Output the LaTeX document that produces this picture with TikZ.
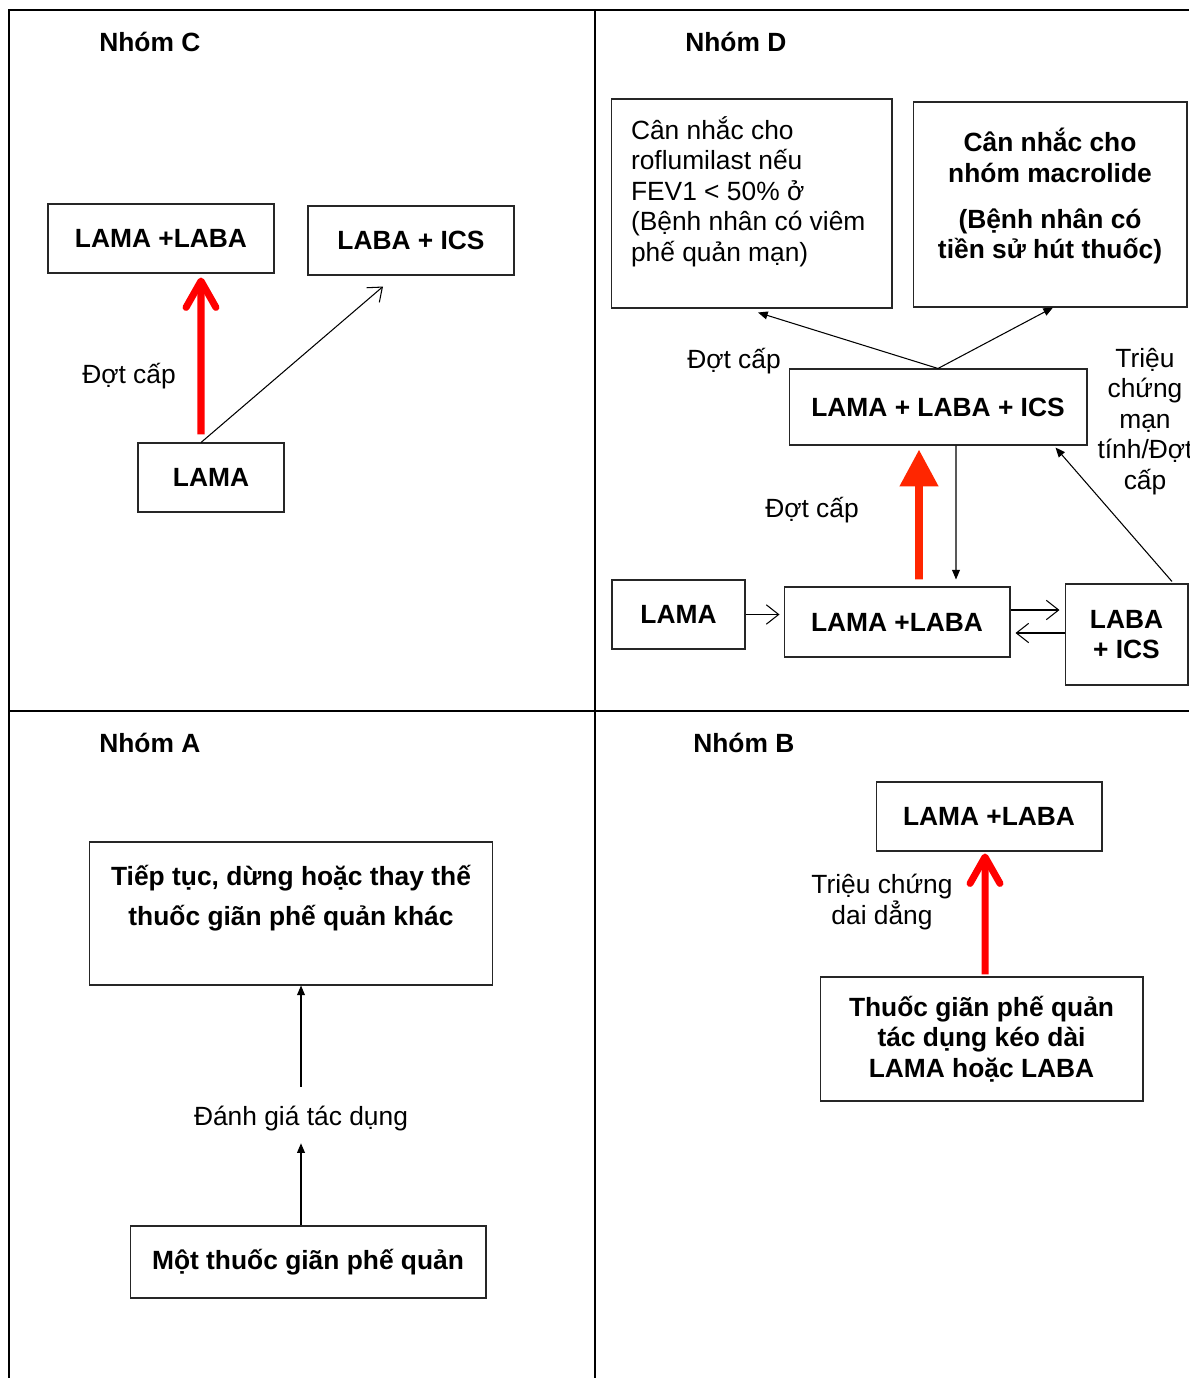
\documentclass[tikz,border=0pt]{standalone}
\usepackage{fontspec}
\setmainfont{Liberation Sans}
\usetikzlibrary{arrows.meta}

\definecolor{redC}{RGB}{255,0,0}
\definecolor{redD}{RGB}{255,38,0}

\tikzset{
  box/.style={draw=black!85, line width=0.6pt, font=\bfseries, align=center, inner sep=0pt},
  plainbox/.style={draw=black!85, line width=0.6pt, inner sep=0pt},
  groupname/.style={anchor=west, font=\bfseries, inner sep=0pt},
  note/.style={align=center, inner sep=2pt},
  thinarrow/.style={line width=0.6pt, -{Triangle[length=5.5pt,width=4.5pt]}},
  openarrow/.style={line width=0.6pt, -{Straight Barb[length=7pt,width=11pt]}},
  redarrow/.style={redC, line width=4pt, -{Straight Barb[length=15pt,width=17pt,round]}},
  bigredarrow/.style={redD, line width=4.5pt, -{Triangle[length=21pt,width=21pt]}}
}

\begin{document}
\fontsize{15}{17.3}\selectfont
\begin{tikzpicture}[x=0.02cm, y=-0.02cm]
    \useasboundingbox (0,0) rectangle (1189,1378);

    % Frame of the four groups
    \draw[line width=1.1pt] (9,1378) -- (9,10) -- (1189,10);
    \draw[line width=1.1pt] (595,10) -- (595,1378);
    \draw[line width=1.1pt] (9,711) -- (1189,711);

    % Group names
    \foreach \name/\x/\y in {C/99/42, D/685/42, A/99/743, B/693/743}
        \node[groupname] (nhom\name) at (\x,\y) {Nhóm \name};

    % Nhom C
    \node[box, minimum width=4.52cm, minimum height=1.38cm] (lamaabC) at (161,238.5) {LAMA +LABA};
    \node[box, minimum width=4.12cm, minimum height=1.38cm] (labaicsC) at (411,240.5) {LABA + ICS};
    \node[box, minimum width=2.92cm, minimum height=1.38cm] (lamaC) at (211,477.5) {LAMA};
    \node[note] (dotcapC) at (129,376) {Đợt cấp};
    \draw[redarrow] ([xshift=-0.2cm,yshift=0.16cm]lamaC.north) -- ([xshift=0.8cm,yshift=-0.08cm]lamaabC.south);
    \draw[openarrow] ([xshift=-0.2cm]lamaC.north) -- ([xshift=-0.56cm,yshift=-0.22cm]labaicsC.south);

    % Nhom D
    \node[plainbox] (roflu) at (751.5,203.5) {\parbox[c][4.18cm][t]{5.62cm}{\raggedright\leftskip=0.4cm\vspace*{10pt}Cân nhắc cho\\ roflumilast nếu\\ FEV1 < 50\% ở\\ (Bệnh nhân có viêm\\ phế quản mạn)}};
    \node[plainbox, font=\bfseries] (macro) at (1050,204.5) {\parbox[c][4.1cm][t]{5.48cm}{\centering\vspace*{15pt}Cân nhắc cho\\ nhóm macrolide\\[9pt] (Bệnh nhân có\\ tiền sử hút thuốc)}};
    \node[box, minimum width=5.96cm, minimum height=1.52cm] (tripleD) at (938,407) {LAMA + LABA + ICS};
    \node[box, minimum width=2.66cm, minimum height=1.38cm] (lamaD) at (678.5,614.5) {LAMA};
    \node[box, minimum width=4.52cm, minimum height=1.4cm] (lamaabD) at (897,622) {LAMA +LABA};
    \node[box, minimum width=2.46cm, minimum height=2.02cm] (labaicsD) at (1126.5,634.5) {LABA\\ + ICS};
    \node[note] (dotcapD) at (734,361) {Đợt cấp};
    \node[note] (dotcapD2) at (812,510) {Đợt cấp};
    \node[note] (trieuD) at (1145,421.5) {Triệu\\ chứng\\ mạn\\ tính/Đợt\\ cấp};

    \draw[thinarrow] (tripleD.north) -- ([xshift=0.13cm,yshift=-0.08cm]roflu.south);
    \draw[thinarrow] (tripleD.north) -- ([xshift=0.06cm]macro.south);
    \draw[bigredarrow] ([xshift=0.44cm,yshift=0.14cm]lamaabD.north) -- ([xshift=-0.38cm,yshift=-0.08cm]tripleD.south);
    \draw[thinarrow] ([xshift=0.36cm]tripleD.south) -- ([xshift=1.18cm,yshift=0.14cm]lamaabD.north);
    \draw[openarrow, shorten >=0.08cm] (lamaD.east) -- (lamaD.east -| lamaabD.west);
    \draw[openarrow, shorten >=0.1cm] ([yshift=0.24cm]lamaabD.east) -- ([yshift=0.24cm]lamaabD.east -| labaicsD.west);
    \draw[openarrow, shorten >=0.1cm] ([yshift=-0.22cm]lamaabD.east -| labaicsD.west) -- ([yshift=-0.22cm]lamaabD.east);
    \draw[thinarrow] ([xshift=0.91cm,yshift=0.04cm]labaicsD.north) -- ([xshift=-0.64cm,yshift=-0.04cm]tripleD.south east);

    % Nhom A
    \node[plainbox, font=\bfseries] (tieptuc) at (291,913.5) {\parbox[c][2.86cm][t]{8.08cm}{\centering\fontsize{15}{22.7}\selectfont\vspace*{13pt}Tiếp tục, dừng hoặc thay thế\\ thuốc giãn phế quản khác}};
    \node[box, minimum width=7.12cm, minimum height=1.44cm] (motthuoc) at (308,1262) {Một thuốc giãn phế quản};
    \node[note] (danhgia) at (301,1119) {Đánh giá tác dụng};
    \draw[thinarrow, shorten <=0.32cm] (danhgia.north) -- (danhgia.north |- tieptuc.south);
    \draw[thinarrow, shorten >=0.16cm] (danhgia.south |- motthuoc.north) -- (danhgia.south);

    % Nhom B
    \node[box, minimum width=4.52cm, minimum height=1.38cm] (lamaabB) at (989,816.5) {LAMA +LABA};
    \node[box, minimum width=6.46cm, minimum height=2.48cm] (thuocB) at (981.5,1039) {Thuốc giãn phế quản\\ tác dụng kéo dài\\ LAMA hoặc LABA};
    \node[note] (trieuB) at (882,902) {Triệu chứng\\ dai dẳng};
    \draw[redarrow] ([xshift=0.07cm,yshift=0.04cm]thuocB.north) -- ([xshift=-0.08cm,yshift=-0.04cm]lamaabB.south);
\end{tikzpicture}
\end{document}
